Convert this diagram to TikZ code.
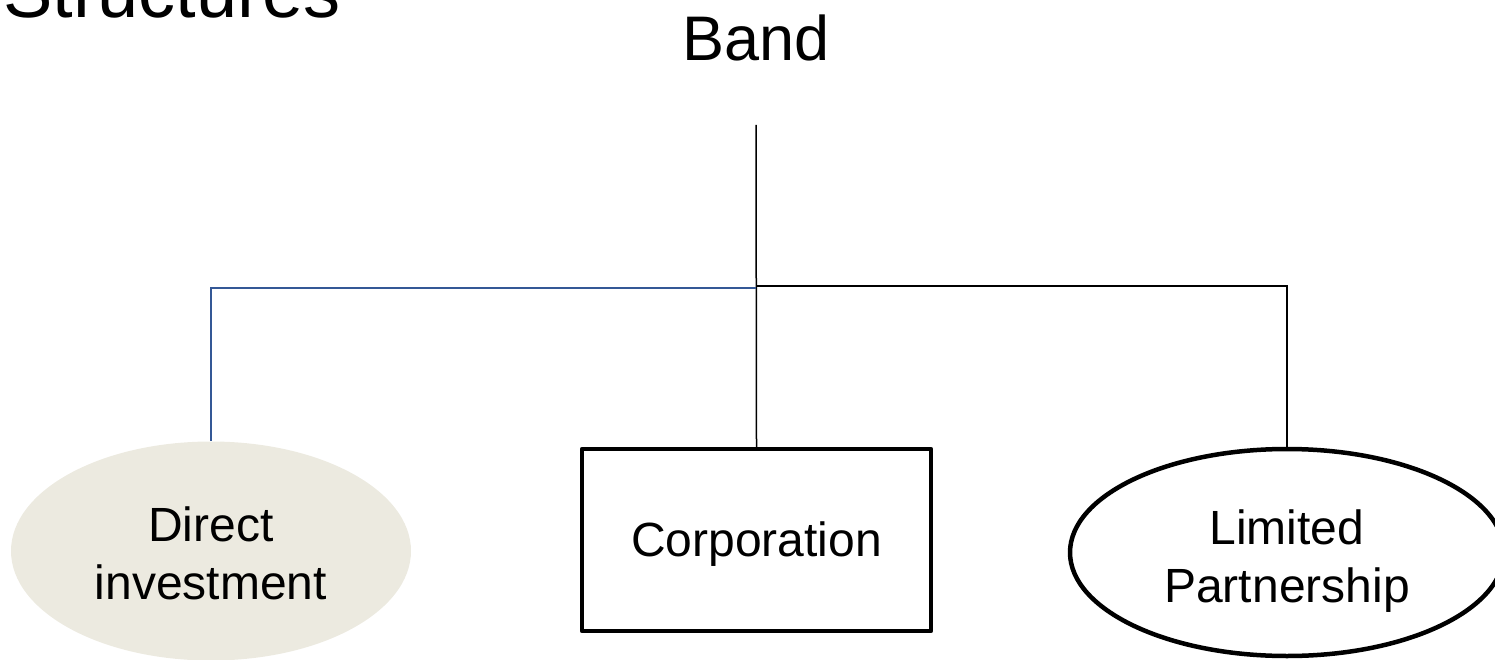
\documentclass[tikz,border=0pt]{standalone}
\usepackage{fontspec}
\setmainfont{Liberation Sans}
\usetikzlibrary{shapes.geometric}
\definecolor{linkblue}{RGB}{52,88,150}
\definecolor{sand}{RGB}{236,234,224}
\tikzset{
  lbl/.style={font=\fontsize{48}{58}\selectfont, align=center, inner sep=0},
  thinline/.style={line width=1.5pt, black},
  bluelink/.style={line width=1.5pt, linkblue},
  heavy/.style={line width=4.5pt, line join=round},
}
\begin{document}
\begin{tikzpicture}[x=1pt,y=-1pt]
  \useasboundingbox (0,0) rectangle (1495,660);

  % headings
  \node[anchor=base west, inner sep=0, font=\fontsize{74}{80}\selectfont] (title) at (3,18) {Structures};
  \node[anchor=base, inner sep=0, font=\fontsize{63}{70}\selectfont] (band) at (756,61) {Band};

  % the three structures
  \node[ellipse, fill=sand, minimum width=400pt, minimum height=219pt, inner sep=0] (di) at (211,551) {};
  \node[rectangle, draw, heavy, minimum width=349pt, minimum height=182pt, inner sep=0] (corp) at (756.5,540) {};
  \node[ellipse, draw, heavy, minimum width=434pt, minimum height=207pt, inner sep=0] (lp) at (1287,552.5) {};

  % their labels
  \node[lbl] (ditext) at ([yshift=-2.5pt]di.center) {Direct\\investment};
  \node[lbl] (corptext) at ([yshift=-4.5pt]corp.center) {Corporation};
  \node[lbl] (lptext) at ([yshift=-9pt]lp.center) {Limited\\Partnership};

  % connector points
  \coordinate (top) at (756,125);
  \coordinate (hub) at (756,286);
  \coordinate (bhub) at (756,288);

  % connectors
  \draw[thinline] (top) -- (corp.north);
  \draw[thinline] (hub) -| (lp.north);
  \draw[bluelink] (bhub) -| (di.north);
\end{tikzpicture}
\end{document}
